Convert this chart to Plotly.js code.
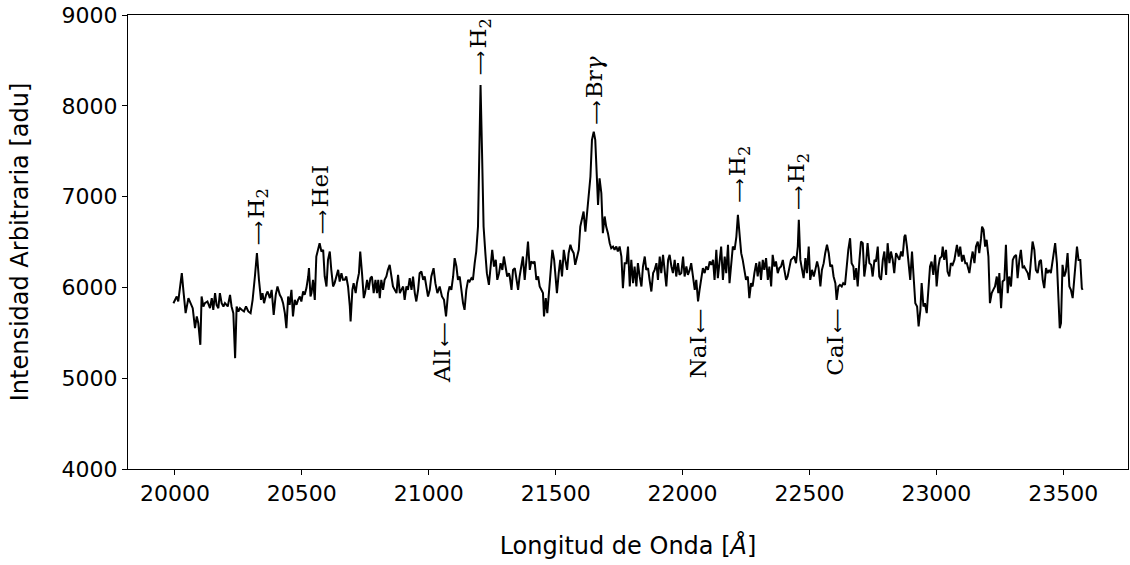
<!DOCTYPE html>
<html>
<head>
<meta charset="utf-8">
<script src="https://cdn.plot.ly/plotly-3.0.1.min.js"></script>
<style>html,body{margin:0;padding:0;background:#fff}#chart{width:1130px;height:565px}</style>
</head>
<body>
<div id="chart"></div>
<script>
// Wavelength (Angstrom) and flux (adu)
const wavelength = [
19994,20007,20013,20027,20033,20042,20053,20062,20070,20079,20086,20092,20100,20105,20112,20118,20128,20138,20145,20151,
20158,20164,20171,20177,20184,20191,20197,20208,20217,20223,20230,20237,20243,20250,20256,20263,20272,20280,20289,20298,
20306,20315,20323,20331,20339,20345,20351,20359,20365,20374,20381,20389,20397,20404,
20413,20420,20426,20433,20439,20446,20452,20459,20465,20472,20479,20485,20492,20498,20505,20511,20518,20525,20528,20534,
20538,20544,20551,20557,20564,20570,20577,20584,20590,20597,20603,20610,20616,20623,20629,20636,20643,20649,20656,20662,
20669,20675,20682,20689,20692,20699,20704,20712,20717,20725,20730,20737,20744,20749,20757,20763,20770,20776,20783,20790,
20796,20801,20807,20813,20820,20826,20833,20839,20846,20853,20859,
20866,20873,20879,20886,20892,20899,20905,20912,20918,20925,20932,20938,20945,20951,20958,20964,20971,20978,20984,20991,
20997,21004,21010,21019,21026,21034,21043,21052,21060,21068,21076,21082,21089,21096,21102,21109,21115,21122,21128,21135,
21141,21148,21155,21161,21168,21174,21181,21187,21194,21201,21204,21210,21216,21223,21229,21237,21244,21250,21257,21264,
21270,21277,21283,21290,21296,21303,21309,21316,
21319,21326,21332,21339,21345,21352,21358,21365,21371,21378,21385,21391,21398,21404,21411,21417,21424,21431,21437,21444,
21450,21454,21461,21467,21474,21480,21487,21494,21500,21505,21512,21518,21525,21532,21538,21545,21551,21558,21564,21571,
21577,21584,21591,21597,21604,21610,21617,21623,21630,21637,21643,21650,21656,21663,21667,21673,21680,21686,21693,21699,
21706,21713,21719,21726,21732,21739,21745,21752,21759,21765,21772,
21779,21785,21792,21798,21805,21811,21818,21824,21831,21838,21844,21851,21857,21864,21870,21877,21884,21890,21897,21903,
21910,21916,21923,21929,21936,21943,21949,21956,21962,21969,21975,21982,21988,21995,22002,22008,22015,22021,22028,22034,
22041,22048,22054,22061,22067,22074,22080,22087,22093,22100,22107,22113,22120,22126,22133,22139,22146,22152,22159,22166,
22172,22179,22185,22192,22198,22205,22212,22218,22225,
22231,22237,22244,22250,22257,22263,22270,22276,22283,22290,22296,22303,22309,22316,22322,22329,22336,22342,22349,22355,
22362,22368,22375,22381,22388,22395,22401,22408,22414,22421,22427,22434,22440,22447,22454,22458,22464,22471,22477,22484,
22490,22497,22503,22510,22517,22523,22530,22536,22543,22549,22556,22562,22569,22576,22582,22589,22595,22602,22607,22614,
22620,22627,22633,22640,22646,22653,22660,22666,22673,
22677,22684,22690,22697,22703,22710,22716,22723,22729,22736,22743,22749,22756,22762,22769,22775,22782,22789,22795,22802,
22808,22815,22821,22828,22834,22841,22848,22854,22861,22867,22874,22878,22884,22891,22897,22904,22911,22917,22924,22930,
22937,22942,22949,22955,22962,22968,22975,22981,22988,22995,23001,23008,23014,23021,23025,23031,23038,23044,23051,23057,
23064,23071,23077,23081,23088,23094,23101,23107,23114,23120,23127,
23130,23137,23143,23150,23156,23163,23169,23176,23180,23186,23192,23198,23205,23211,23218,23224,23231,23238,23244,23248,
23255,23261,23268,23274,23281,23287,23294,23301,23307,23314,23320,23327,23333,23340,23346,23353,23360,23366,23373,23379,
23386,23392,23399,23406,23412,23419,23425,23432,23438,23445,23451,23458,23465,23468,23475,23482,23486,23491,23497,23504,
23510,23517,23524,23530,23537,23543,23550,23554,23560,23567,23573,23576
];
const flux = [
5826,5900,5845,6157,5973,5716,5882,5826,5771,5551,5680,5606,5368,5900,5790,5826,5845,5771,5882,5753,
5937,5808,5771,5937,5826,5790,5826,5790,5918,5790,5716,5221,5790,5735,5771,5753,5735,5790,5735,5716,
5863,6120,6377,6083,5863,5937,5826,5918,5955,5882,5973,5698,5918,6010,
5918,5882,5826,5716,5551,5900,5808,5973,5680,5863,5808,5863,5900,5845,5955,5918,5992,6120,6212,5900,
5937,6083,5863,6340,6413,6487,6395,6413,6120,6010,6303,6395,6193,6010,6047,6120,6193,6065,6157,6083,
6083,6120,6010,5790,5625,5973,6047,5937,6047,6157,6395,6157,5882,5937,6083,5973,6102,6120,5937,6083,
5937,6083,5882,6083,5973,6083,6120,6193,6248,6120,6010,
5973,5937,6139,5937,5973,6010,5863,6010,5973,6102,5973,6120,5937,5845,5973,6157,6175,6083,6120,6010,
5900,5973,6120,6212,6047,5937,6010,5900,5863,5680,5937,6010,5973,6120,6322,6230,6083,6120,5973,5827,
5753,5973,6083,6065,6102,6083,6267,6395,6670,7588,8230,7478,6670,6377,6157,6028,6230,6414,6230,6304,
6083,6157,6267,6193,6340,6193,6120,6157,
6120,5973,6193,6212,6120,5973,6120,6230,6340,6083,6304,6505,6193,6285,6267,6285,6083,6120,6010,5973,
5937,5680,5882,5717,5937,6157,6414,6304,6120,5937,6157,6304,6120,6414,6304,6193,6377,6469,6414,6377,
6249,6340,6414,6670,6744,6836,6615,6817,6964,7221,7624,7716,7624,7258,6909,7202,7037,6597,6781,6670,
6597,6487,6432,6450,6414,6450,6395,6450,6340,5992,6267,
6267,6450,6010,6303,6047,6230,6010,6267,6120,6010,6230,6340,6193,6212,6083,5955,6157,6193,6267,6083,
6340,6157,6358,6193,6010,6303,6358,6230,6157,6303,6120,6267,6138,6157,6340,6120,6230,6138,6193,6267,
6120,5973,6083,5845,5973,6102,6212,6157,6230,6193,6285,6248,6303,6083,6413,6102,6303,6450,6083,6340,
6157,6469,6047,6303,6450,6413,6560,6799,6597,
6377,6303,6193,6083,6120,5882,6047,6010,6157,6267,6120,6285,6083,6303,6193,6322,6083,6230,6010,6358,
6230,6285,6157,6212,6230,6303,6193,6083,6120,6248,6303,6322,6340,6267,6450,6744,6303,6193,6102,6322,
6157,6450,6083,6193,6120,6193,6285,6212,6010,6193,6267,6377,6469,6377,6230,6248,6120,6047,5863,6010,
6028,6010,6047,6028,6230,6413,6542,6267,6230,
6083,6212,6010,6303,6505,6487,6120,6267,6487,6267,6248,6120,6303,6285,6450,6120,6083,6303,6395,6138,
6487,6267,6395,6303,6157,6377,6340,6303,6395,6340,6560,6579,6450,6267,6083,6395,6047,5826,5790,5570,
5753,6047,5790,5826,5716,5973,6230,6285,6138,6358,6010,6230,6322,6340,6450,6303,6413,6175,6120,6267,
6248,6303,6413,6469,6340,6450,6285,6358,6267,6267,6193,
6157,6303,6395,6267,6450,6505,6377,6542,6670,6634,6450,6524,6340,5826,5937,5973,6010,6120,5937,6157,
5771,6065,6083,6469,5937,6120,6010,6303,6340,6358,6102,6303,6413,6212,6230,6193,6157,6083,6377,6505,
6413,6193,6157,6285,6303,6083,5992,6212,6157,6193,6157,6303,6413,6487,6267,5753,5551,5606,6248,6120,
6175,6377,6010,5973,5882,6083,6340,6450,6303,6303,5992,5973
];

// Spectral line labels
const lineNames  = ["H<sub>2</sub>", "HeI", "AlI", "H<sub>2</sub>", "Br<i>γ</i>", "NaI", "H<sub>2</sub>", "H<sub>2</sub>", "CaI"];
const lineWaves  = [20327, 20571, 21055, 21205, 21653, 22059, 22224, 22457, 22602];
const lineLevels = [6447, 6568, 5643, 8318, 7768, 5786, 6909, 6832, 5786];
const lineDirs   = ["up", "up", "down", "up", "up", "down", "up", "up", "down"];

// Axis ticks
const xTicks = [20000, 20500, 21000, 21500, 22000, 22500, 23000, 23500];
const yTicks = [4000, 5000, 6000, 7000, 8000, 9000];

const gap = '<span style="font-size:7px"> </span>';
const arrowR = '<span style="font-family:DejaVu Sans;font-size:17px">⟶</span>' + gap;
const arrowL = gap + '<span style="font-family:DejaVu Sans;font-size:17px">⟵</span>';

const annotations = lineNames.map((name, i) => {
  const up = lineDirs[i] === "up";
  return {
    x: lineWaves[i], y: lineLevels[i], xref: "x", yref: "y",
    text: up ? arrowR + name : name + arrowL,
    showarrow: false, textangle: -90,
    xanchor: "center", yanchor: up ? "bottom" : "top",
    font: {family: "DejaVu Serif", size: 23, color: "#000"}
  };
});

const trace = {
  x: wavelength, y: flux, type: "scatter", mode: "lines",
  line: {color: "#000", width: 2}, hoverinfo: "skip"
};

const axisCommon = {
  showgrid: false, zeroline: false, showline: true, mirror: true,
  linecolor: "#000", linewidth: 1, ticks: "outside", ticklen: 5, tickwidth: 1, tickcolor: "#000",
  tickfont: {family: "DejaVu Sans", size: 22, color: "#000"}
};

const layout = {
  width: 1130, height: 565,
  margin: {l: 128, r: 2, t: 15, b: 96},
  paper_bgcolor: "#fff", plot_bgcolor: "#fff",
  showlegend: false,
  xaxis: Object.assign({}, axisCommon, {
    range: [19815, 23755], tickvals: xTicks, ticktext: xTicks.map(String),
    title: {text: "Longitud de Onda [<i>Å</i>]", font: {family: "DejaVu Sans", size: 24, color: "#000"}, standoff: 31}
  }),
  yaxis: Object.assign({}, axisCommon, {
    range: [4000, 9000], tickvals: yTicks, ticktext: yTicks.map(String),
    title: {text: "Intensidad Arbitraria [adu]", font: {family: "DejaVu Sans", size: 24, color: "#000"}, standoff: 26}
  }),
  annotations: annotations
};

Plotly.newPlot("chart", [trace], layout, {displayModeBar: false, staticPlot: true});
</script>
</body>
</html>
